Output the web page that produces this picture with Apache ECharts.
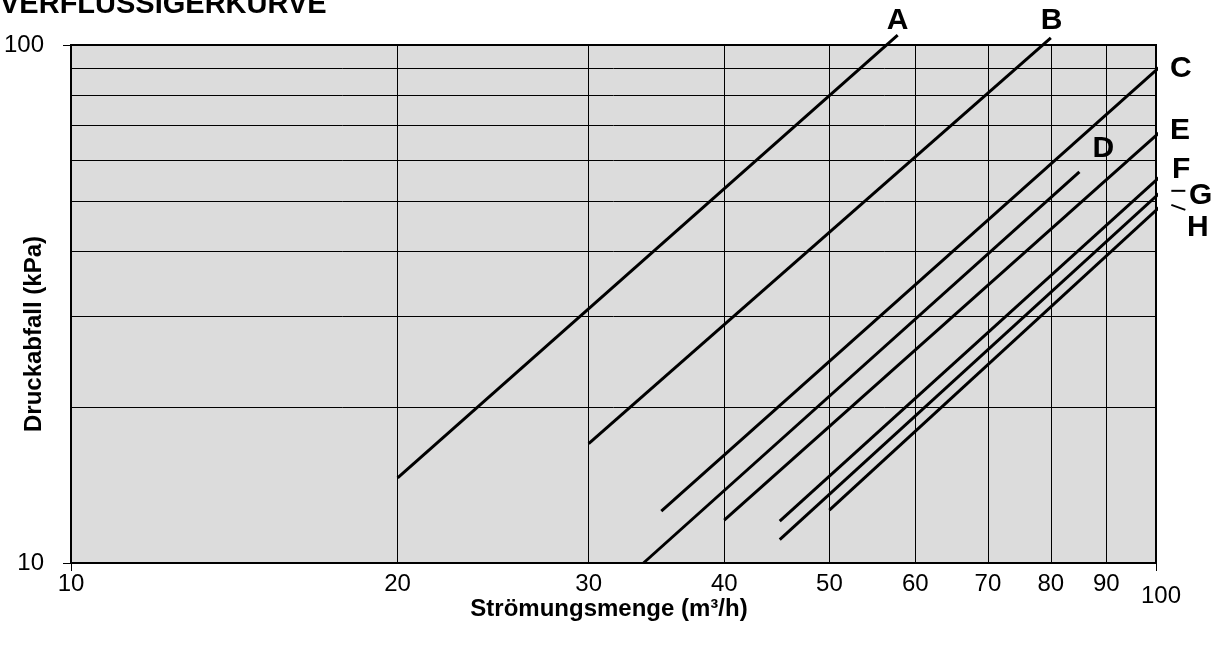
<!DOCTYPE html>
<html>
<head>
<meta charset="utf-8">
<script src="https://cdn.jsdelivr.net/npm/echarts@6/dist/echarts.min.js"></script>
<style>
  html, body { margin: 0; padding: 0; background: #fff; }
  #chart { width: 1212px; height: 647px; }
</style>
</head>
<body>
<div id="chart"></div>
<script>
// Verflüssiger-Kennlinien (log-log), je Kurve Anfangs- und Endpunkt
const curveNames = ['A', 'B', 'C', 'D', 'E', 'F', 'G', 'H'];
const flowStart = [20, 30, 35, 33.7, 40, 45, 45, 50];          // m³/h
const dropStart = [14.6, 17.0, 12.6, 10.0, 12.1, 12.05, 11.1, 12.65]; // kPa
const flowEnd = [57.8, 80, 102, 85, 102, 102, 102, 102];
const dropEnd = [104.5, 103.2, 92.7, 56.9, 69.4, 56.9, 53.0, 49.8];

// Achsenbeschriftung / Gitterlinien
const flowLabels = [10, 20, 30, 40, 50, 60, 70, 80, 90, 100];
const gridValues = [20, 30, 40, 50, 60, 70, 80, 90];

const FONT = "'Liberation Sans', Arial, sans-serif";

// Position der Kurvenbuchstaben relativ zum Linienende
const labelOffsets = {
  A: [-16, -14], B: [-15, -17], C: [7, 0], D: [8, -23],
  E: [7, -3], F: [9, -9], G: [26, 1], H: [24, 19]
};

const chart = echarts.init(document.getElementById('chart'));

const series = curveNames.map((name, i) => ({
  name: name,
  type: 'line',
  xAxisIndex: 0,
  yAxisIndex: 0,
  data: [[flowStart[i], dropStart[i]], [flowEnd[i], dropEnd[i]]],
  symbol: 'none',
  clip: false,
  silent: true,
  lineStyle: { color: '#000', width: 3, cap: 'butt' },
  endLabel: {
    show: true,
    position: 'right',
    distance: 5,
    offset: labelOffsets[name],
    formatter: name,
    color: '#000',
    fontFamily: FONT,
    fontSize: 30,
    fontWeight: 'bold'
  }
}));

const option = {
  animation: false,
  title: {
    text: 'VERFLÜSSIGERKURVE',
    left: 0,
    top: -10,
    padding: 0,
    textStyle: { color: '#000', fontFamily: FONT, fontSize: 29, fontWeight: 'bold' }
  },
  grid: {
    left: 71,
    right: 56,
    top: 45,
    bottom: 84,
    containLabel: false,
    outerBoundsMode: 'none',
    show: true,
    backgroundColor: '#dcdcdc',
    borderColor: '#000',
    borderWidth: 2
  },
  xAxis: [
    {
      type: 'log',
      logBase: 10,
      min: 10,
      max: 100,
      position: 'bottom',
      name: 'Strömungsmenge (m³/h)',
      nameLocation: 'middle',
      nameGap: 34,
      nameMoveOverlap: false,
      nameTextStyle: {
        color: '#000', fontFamily: FONT, fontSize: 24, fontWeight: 'bold',
        padding: [0, 9, 0, 0]
      },
      axisLine: { show: true, lineStyle: { color: '#000', width: 2 } },
      axisTick: { show: true, length: 8, lineStyle: { color: '#000', width: 1 } },
      axisLabel: {
        customValues: flowLabels,
        margin: 9,
        color: '#000',
        fontFamily: FONT,
        fontSize: 24,
        formatter: (v) => (v === 100 ? '{last|100}' : String(v)),
        rich: {
          last: { fontFamily: FONT, fontSize: 24, color: '#000', padding: [12, 0, 0, 10] }
        }
      },
      splitLine: { show: false }
    },
    {
      // nur für die senkrechten Gitterlinien
      type: 'log',
      logBase: 10,
      min: 10,
      max: 100,
      position: 'top',
      axisLine: { show: false },
      axisTick: { show: false, customValues: gridValues },
      axisLabel: { show: false },
      splitLine: { show: true, lineStyle: { color: '#000', width: 1 } }
    }
  ],
  yAxis: [
    {
      type: 'log',
      logBase: 10,
      min: 10,
      max: 100,
      position: 'left',
      name: 'Druckabfall (kPa)',
      nameLocation: 'middle',
      nameRotate: 90,
      nameGap: 25,
      nameMoveOverlap: false,
      nameTextStyle: {
        color: '#000', fontFamily: FONT, fontSize: 24, fontWeight: 'bold',
        padding: [0, 60, 0, 0]
      },
      axisLine: { show: true, lineStyle: { color: '#000', width: 2 } },
      axisTick: { show: true, length: 8, lineStyle: { color: '#000', width: 1 } },
      axisLabel: { margin: 27, color: '#000', fontFamily: FONT, fontSize: 24 },
      splitLine: { show: false }
    },
    {
      // nur für die waagerechten Gitterlinien
      type: 'log',
      logBase: 10,
      min: 10,
      max: 100,
      position: 'right',
      axisLine: { show: false },
      axisTick: { show: false, customValues: gridValues },
      axisLabel: { show: false },
      splitLine: { show: true, lineStyle: { color: '#000', width: 1 } }
    }
  ],
  series: series
};

chart.setOption(option);

// kleine Hinweisstriche bei G und H
const gEnd = chart.convertToPixel({ seriesIndex: 6 }, [flowEnd[6], dropEnd[6]]);
const hEnd = chart.convertToPixel({ seriesIndex: 7 }, [flowEnd[7], dropEnd[7]]);
chart.setOption({
  graphic: [
    {
      type: 'line',
      shape: { x1: gEnd[0] + 6, y1: gEnd[1] + 3, x2: gEnd[0] + 20, y2: gEnd[1] + 3 },
      style: { stroke: '#000', lineWidth: 2 }
    },
    {
      type: 'line',
      shape: { x1: hEnd[0] + 6, y1: hEnd[1] + 3, x2: hEnd[0] + 20, y2: hEnd[1] + 8 },
      style: { stroke: '#000', lineWidth: 2 }
    }
  ]
});
</script>
</body>
</html>
